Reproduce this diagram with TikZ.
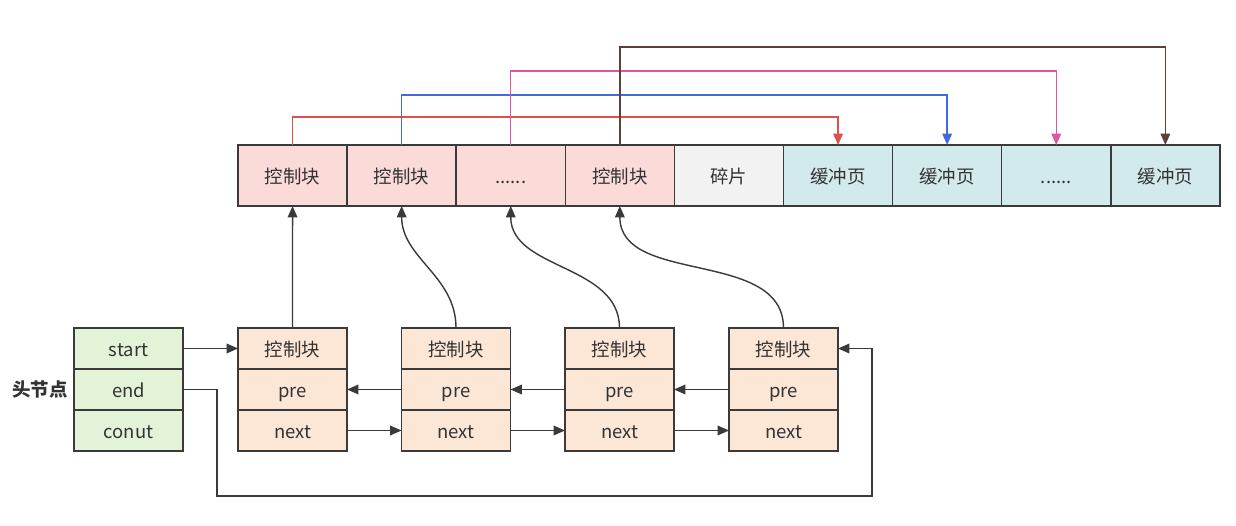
\documentclass[tikz,border=0pt]{standalone}
\usepackage{fontspec}
\setmainfont{Noto Sans CJK SC}
\usetikzlibrary{positioning, arrows.meta}

\definecolor{ctrlfill}{HTML}{FADBD8}
\definecolor{fragfill}{HTML}{F2F2F2}
\definecolor{buffill}{HTML}{D3EAEC}
\definecolor{headfill}{HTML}{E2F3D8}
\definecolor{listfill}{HTML}{FCE7D7}
\definecolor{edge}{HTML}{3A3A3A}
\definecolor{txt}{HTML}{333333}
\definecolor{redln}{HTML}{E0504A}
\definecolor{blueln}{HTML}{4169E1}
\definecolor{pinkln}{HTML}{E0559F}
\definecolor{brownln}{HTML}{5D4037}

\newcommand{\moredots}{......}

\tikzset{
  cell/.style={draw=edge, line width=0.8pt, inner sep=0pt, outer sep=0pt,
    minimum width=2.18cm, text=txt, text height=1.9ex, text depth=0.3ex,
    font=\fontsize{10.5}{12}\selectfont},
  bigcell/.style={cell, minimum height=1.22cm},
  smallcell/.style={cell, minimum height=0.82cm},
  link/.style={->, draw=edge, line width=0.8pt},
}

\begin{document}
\begin{tikzpicture}[x=0.02cm, y=-0.02cm, >={Triangle[length=6.5pt, width=5.5pt]}]
    \useasboundingbox (0,0) rectangle (1236,526);

    % Memory row
    \foreach \i/\t/\f in {1/控制块/ctrlfill, 2/控制块/ctrlfill, 3/\moredots/ctrlfill,
                          4/控制块/ctrlfill, 5/碎片/fragfill, 6/缓冲页/buffill,
                          7/缓冲页/buffill, 8/\moredots/buffill, 9/缓冲页/buffill}
        \node[bigcell, fill=\f] (m\i) at ({238+109.1*(\i-0.5)},175.5) {\t};

    % Control block -> buffer page
    \draw[link, draw=redln, color=redln] (m1.north) -- ++(0,-28) -| (m6.north);
    \draw[link, draw=blueln, color=blueln] (m2.north) -- ++(0,-50) -| (m7.north);
    \draw[link, draw=pinkln, color=pinkln] (m3.north) -- ++(0,-74) -| (m8.north);
    \draw[link, draw=brownln, color=brownln] (m4.north) -- ++(0,-98) -| (m9.north);

    % Head node
    \node[smallcell, fill=headfill] (hs) at (128.5,348.5) {start};
    \node[smallcell, fill=headfill] (he) at (128.5,389.5) {end};
    \node[smallcell, fill=headfill] (hc) at (128.5,430.5) {conut};
    \node[text=txt, font=\bfseries\fontsize{10.5}{12}\selectfont] (hlabel) at (40,389.5) {头节点};

    % List nodes
    \foreach \i/\x in {1/292.5, 2/456, 3/619.5, 4/783.5} {
        \node[smallcell, fill=listfill] (c\i) at (\x,348.5) {控制块};
        \node[smallcell, fill=listfill] (p\i) at (\x,389.5) {pre};
        \node[smallcell, fill=listfill] (n\i) at (\x,430.5) {next};
    }

    % Links between list nodes
    \draw[link] (hs.east) -- (c1.west);
    \foreach \i/\j in {1/2, 2/3, 3/4} {
        \draw[link] (p\j.west) -- (p\i.east);
        \draw[link] (n\i.east) -- (n\j.west);
    }

    % end -> last node
    \coordinate (lpA) at (217,496);
    \coordinate (lpB) at (872,496);
    \draw[link] (he.east) -| (lpA) -- (lpB) |- (c4.east);

    % List nodes -> control blocks
    \draw[link] (c1.north) -- (m1.south);
    \draw[link] (c2.north) to[out=90, in=-90] (m2.south);
    \draw[link] (c3.north) to[out=90, in=-90] (m3.south);
    \draw[link] (c4.north) to[out=90, in=-90] (m4.south);
\end{tikzpicture}
\end{document}
